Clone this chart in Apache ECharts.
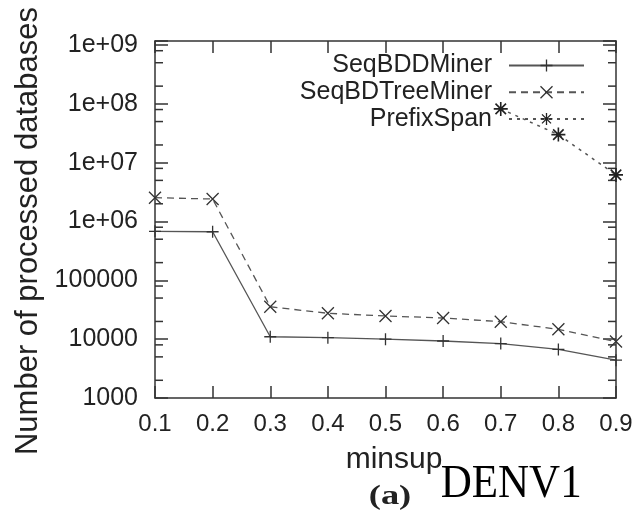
<!DOCTYPE html>
<html>
<head>
<meta charset="utf-8">
<title>DENV1</title>
<script src="https://cdn.jsdelivr.net/npm/echarts@6/dist/echarts.min.js"></script>
<style>
  html, body { margin: 0; padding: 0; background: #fff; }
  #chart { width: 636px; height: 516px; }
</style>
</head>
<body>
<div id="chart"></div>
<script>
// minsup values on the x axis
var minsup = ['0.1', '0.2', '0.3', '0.4', '0.5', '0.6', '0.7', '0.8', '0.9'];

// number of processed databases
var seqBDDMiner = [680000, 670000, 11000, 10600, 10000, 9300, 8400, 6700, 4400];
var seqBDTreeMiner = [2540000, 2410000, 35600, 27500, 24800, 22900, 19800, 14700, 9100];
var prefixSpan = [null, null, null, null, null, null, 82000000, 30000000, 6200000];

// y tick labels, gnuplot style, 1e3 .. 1e9
var yTickLabels = ['1000', '10000', '100000', '1e+06', '1e+07', '1e+08', '1e+09'];
// small ticks at 2, 5 and 8 of each decade
var yMinorTicks = [2e3, 5e3, 8e3, 2e4, 5e4, 8e4, 2e5, 5e5, 8e5, 2e6, 5e6, 8e6,
  2e7, 5e7, 8e7, 2e8, 5e8, 8e8];

var yMin = 1000;
var yMax = 1.17e9;

var sans = 'Liberation Sans, Arial, sans-serif';
var ink = '#222';
var frame = '#333';

var plusPath = 'path://M6 0V12M0 6H12';
var crossPath = 'path://M0 0L12 12M12 0L0 12';
var starPath = 'path://M6 0V12M0 6H12M1.5 1.5L10.5 10.5M10.5 1.5L1.5 10.5';

function yLabel(v) {
  var l = Math.log10(v);
  var e = Math.round(l);
  if (Math.abs(l - e) > 1e-6) return '';
  return yTickLabels[e - 3] || '';
}

var chart = echarts.init(document.getElementById('chart'));

chart.setOption({
  animation: false,
  backgroundColor: '#fff',
  grid: { left: 155, right: 20, top: 41, bottom: 118 },
  legend: {
    data: ['SeqBDDMiner', 'SeqBDTreeMiner', 'PrefixSpan'],
    orient: 'vertical',
    align: 'right',
    right: 51,
    top: 53,
    padding: 0,
    itemWidth: 75,
    itemHeight: 15,
    itemGap: 1.7,
    itemStyle: { borderWidth: 1.3 },
    textStyle: {
      fontFamily: sans, fontSize: 25, color: ink,
      lineHeight: 25, padding: [0, 12, 0, 0]
    }
  },
  xAxis: [{
    type: 'category',
    data: minsup,
    boundaryGap: false,
    name: 'minsup',
    nameLocation: 'middle',
    nameGap: 47,
    nameTextStyle: { fontFamily: sans, fontSize: 30, color: ink, padding: [0, 0, 0, 17] },
    axisLine: { lineStyle: { color: frame, width: 1.5 } },
    axisTick: { inside: true, length: 12, alignWithLabel: true, lineStyle: { color: frame, width: 1.5 } },
    axisLabel: { fontFamily: sans, fontSize: 24, color: ink, margin: 14 },
    splitLine: { show: false }
  }, {
    type: 'category',
    data: minsup,
    boundaryGap: false,
    position: 'top',
    axisLine: { lineStyle: { color: frame, width: 1.5 } },
    axisTick: { inside: true, length: 12, alignWithLabel: true, lineStyle: { color: frame, width: 1.5 } },
    axisLabel: { show: false },
    splitLine: { show: false }
  }],
  yAxis: [{
    type: 'log',
    logBase: 10,
    min: yMin,
    max: yMax,
    name: 'Number of processed databases',
    nameLocation: 'middle',
    nameGap: 104,
    nameTextStyle: { fontFamily: sans, fontSize: 31, color: ink, padding: [0, 23, 0, 0] },
    axisLine: { show: true, lineStyle: { color: frame, width: 1.5 } },
    axisTick: { show: true, inside: true, length: 13, lineStyle: { color: frame, width: 1.5 } },
    axisLabel: { fontFamily: sans, fontSize: 25, color: ink, margin: 17, formatter: yLabel },
    splitLine: { show: false }
  }, {
    type: 'log',
    logBase: 10,
    min: yMin,
    max: yMax,
    position: 'right',
    axisLine: { show: true, lineStyle: { color: frame, width: 1.5 } },
    axisTick: { show: true, inside: true, length: 13, lineStyle: { color: frame, width: 1.5 } },
    axisLabel: { show: false },
    splitLine: { show: false }
  }],
  series: [{
    name: 'SeqBDDMiner',
    type: 'line',
    data: seqBDDMiner,
    symbol: plusPath,
    symbolSize: 12,
    clip: false,
    lineStyle: { color: '#555', width: 1.3, type: 'solid' },
    itemStyle: { color: '#333', borderColor: '#333', borderWidth: 1.3 }
  }, {
    name: 'SeqBDTreeMiner',
    type: 'line',
    data: seqBDTreeMiner,
    symbol: crossPath,
    symbolSize: 12,
    clip: false,
    lineStyle: { color: '#555', width: 1.3, type: [7, 5] },
    itemStyle: { color: '#333', borderColor: '#333', borderWidth: 1.3 }
  }, {
    name: 'PrefixSpan',
    type: 'line',
    data: prefixSpan,
    symbol: starPath,
    symbolSize: 14,
    clip: false,
    connectNulls: false,
    lineStyle: { color: '#555', width: 1.5, type: [3, 5] },
    itemStyle: { color: '#222', borderColor: '#222', borderWidth: 1.6 }
  }, {
    // small log ticks on the left and right frame
    name: 'minorTicks',
    type: 'custom',
    silent: true,
    clip: false,
    data: yMinorTicks.map(function (v) { return [0, v]; }),
    renderItem: function (params, api) {
      var cs = params.coordSys;
      var y = api.coord([0, api.value(1)])[1];
      var st = { stroke: frame, lineWidth: 1.5 };
      return {
        type: 'group',
        children: [
          { type: 'line', shape: { x1: cs.x, y1: y, x2: cs.x + 8, y2: y }, style: st },
          { type: 'line', shape: { x1: cs.x + cs.width - 8, y1: y, x2: cs.x + cs.width, y2: y }, style: st }
        ]
      };
    }
  }],
  graphic: [{
    type: 'text',
    x: 390,
    y: 497.5,
    scaleX: 1.35,
    style: {
      text: '(a)',
      font: 'bold 27px Liberation Serif, Times New Roman, serif',
      fill: ink,
      align: 'center',
      verticalAlign: 'middle'
    }
  }, {
    type: 'text',
    x: 440.7,
    y: 485,
    scaleX: 0.915,
    style: {
      text: 'DENV1',
      font: '47px Liberation Serif, Times New Roman, serif',
      fill: '#000',
      align: 'left',
      verticalAlign: 'middle'
    }
  }]
});
</script>
</body>
</html>
